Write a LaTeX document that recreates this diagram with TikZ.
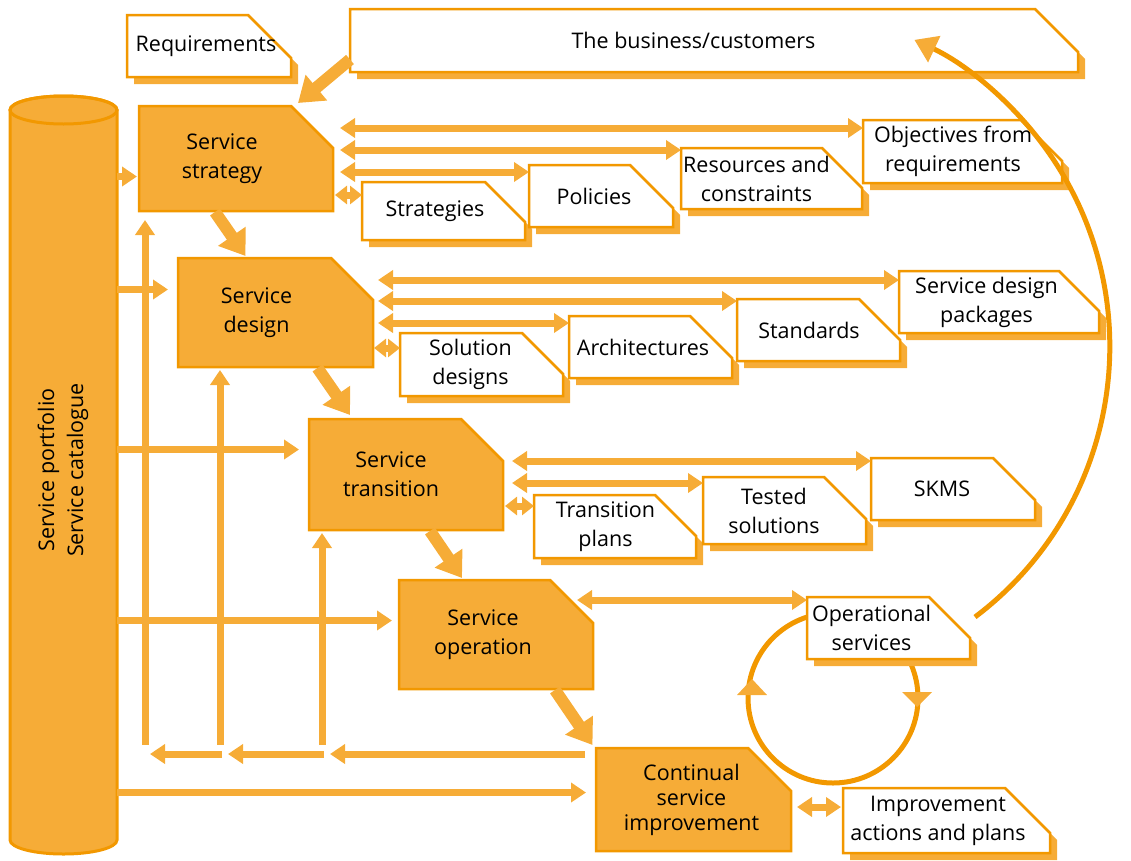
\documentclass[tikz,border=0pt]{standalone}
\usepackage{fontspec}
\setmainfont{Open Sans}
\usetikzlibrary{arrows.meta, calc}
\definecolor{itilfill}{RGB}{246,172,55}
\definecolor{itiledge}{RGB}{242,152,0}
\pgfdeclarelayer{background}
\pgfsetlayers{background,main}
\tikzset{
    >={Triangle[length=15pt,width=19pt]}, % arrow heads of the thin flows
    every node/.style={font=\fontsize{21.5}{29}\selectfont, align=center, inner sep=0pt, outer sep=0pt}, % text of all boxes
    wh/.style 2 args={minimum width=#1, minimum height=#2}, % box size in pixels
    textleft/.style={execute at end node={\hspace*{#1pt}}}, % moves the text left by half the value
    stagebox/.style={fill=itilfill, draw=itiledge, line width=2.5pt}, % orange lifecycle boxes
    paperbox/.style={fill=white, draw=itiledge, line width=2.5pt}, % white output boxes
    papershadow/.style={fill=itilfill, transform canvas={xshift=7pt, yshift=-7pt}}, % shadow under the output boxes
    link/.style={draw=itilfill, line width=7pt, <->}, % two way flows
    feed/.style={draw=itilfill, line width=7pt, ->}, % one way flows
    nudge/.style={draw=itilfill, line width=7pt, {Triangle[length=12pt,width=18pt]}-{Triangle[length=12pt,width=18pt]}}, % very short two way flows
    stagearrow/.style={draw=itilfill, line width=12pt, -{Triangle[length=24pt,width=32pt]}}, % arrows from stage to stage
    cycleline/.style={draw=itiledge, line width=5pt}, % improvement loop
}
\newcommand{\cutcorner}[3][]{% box outline with the top right corner cut off
    \path[#1] (#2.south west) -- (#2.north west) -- ([xshift=-#3pt]#2.north east)
        -- ([yshift=-#3pt]#2.north east) -- (#2.south east) -- cycle;
}

\begin{document}
\begin{tikzpicture}[x=1pt, y=-1pt]
    \useasboundingbox (0,0) rectangle (1131,860);

    % portfolio
    \node[rotate=90] (port) at (63,470) {Service portfolio\\Service catalogue};
    \coordinate (porttop) at (63.5,110);
    \coordinate (portbot) at (63.5,840);
    \coordinate (portedge) at (117,475);

    % lifecycle stages
    \node[wh={194}{105}, textleft=28] (strat) at (236,158.5) {Service\\strategy};
    \node[wh={195}{109}, textleft=38] (design) at (275.5,312.5) {Service\\design};
    \node[wh={194}{111}, textleft=30] (trans) at (406,474.5) {Service\\transition};
    \node[wh={194}{109}, textleft=26] (oper) at (496,634.5) {Service\\operation};
    \node[wh={195}{103}, textleft=4, font=\fontsize{21.5}{25}\selectfont] (csi) at (693.5,799.5) {Continual\\service\\improvement};

    % outputs
    \node[wh={164}{62}, textleft=6] (req) at (209,46) {Requirements};
    \node[wh={728}{63}, textleft=41] (biz) at (714,40.5) {The business/customers};
    \node[wh={163}{58}, textleft=17] (strats) at (443.5,211) {Strategies};
    \node[wh={144}{62}, textleft=14] (pol) at (601,196) {Policies};
    \node[wh={181}{61}, textleft=30] (res) at (771.5,178.5) {Resources and\\constraints};
    \node[wh={199}{63}, textleft=19] (obj) at (962.5,151.5) {Objectives from\\requirements};
    \node[wh={163}{63}, textleft=22] (soldes) at (481.5,364.5) {Solution\\designs};
    \node[wh={163}{62}, textleft=15] (arch) at (650.5,347) {Architectures};
    \node[wh={163}{62}, textleft=19] (std) at (818.5,330) {Standards};
    \node[wh={200}{62}, textleft=25] (sdp) at (999,302) {Service design\\packages};
    \node[wh={162}{63}, textleft=19] (tplan) at (615,526.5) {Transition\\plans};
    \node[wh={163}{67}, textleft=21] (tested) at (784.5,510.5) {Tested\\solutions};
    \node[wh={164}{62}, textleft=22] (skms) at (953,489) {SKMS};
    \node[wh={163}{62}, textleft=34] (opsvc) at (888.5,628) {Operational\\services};
    \node[wh={207}{65}, textleft=17] (impr) at (946.5,820.5) {Improvement\\actions and plans};

    \coordinate (cyc) at (833,698);
    \coordinate (cyclestart) at (975,617);
    \coordinate (rt) at (322,754);
    \coordinate (rd) at (220,754);
    \coordinate (rs) at (145,754);

    \begin{pgfonlayer}{background}
        \path[stagebox, line width=3pt] ($(portbot)+(-53.5,0)$) arc[start angle=180, end angle=0, x radius=53.5, y radius=14]
            -- ($(porttop)+(53.5,0)$) arc[start angle=0, end angle=-180, x radius=53.5, y radius=14] -- cycle;
        \draw[itiledge, line width=3pt] (porttop) ellipse[x radius=53.5, y radius=14];
        \draw[cycleline] (cyc) circle[radius=85];
        \foreach \nm/\ct in {strat/42, design/42, trans/42, oper/43, csi/43}
            {\cutcorner[stagebox]{\nm}{\ct}}
        \foreach \nm/\ct in {req/43, biz/43, strats/40, pol/43, res/40, obj/41, soldes/41, arch/42, std/41, sdp/40, tplan/41, tested/42, skms/42, opsvc/41, impr/45}
            {\cutcorner[papershadow]{\nm}{\ct}
             \cutcorner[paperbox]{\nm}{\ct}}
    \end{pgfonlayer}

    % stage to stage
    \draw[stagearrow] ($(biz.west)+(0,19)$) -- ($(strat.north)+(62,-3)$);
    \draw[stagearrow] ($(strat.south)+(-21,1)$) -- ($(design.north)+(-30,-2)$);
    \draw[stagearrow] ($(design.south)+(42,1)$) -- ($(trans.north)+(-56,-4)$);
    \draw[stagearrow] ($(trans.south)+(24,1)$) -- ($(oper.north)+(-34,-2)$);
    \draw[stagearrow] ($(oper.south)+(59,1)$) -- ($(csi.north)+(-101,-3)$);

    % portfolio into the stages
    \draw[feed] ($(portedge |- strat.west)+(0,18)$) -- ($(strat.west)+(-2,18)$);
    \draw[feed] ($(portedge |- design.west)+(0,-23)$) -- ($(design.west)+(-10,-23)$);
    \draw[feed] ($(portedge |- trans.west)+(0,-25)$) -- ($(trans.west)+(-10,-25)$);
    \draw[feed] ($(portedge |- oper.west)+(0,-14)$) -- ($(oper.west)+(-7,-14)$);
    \draw[feed] ($(portedge |- csi.west)+(0,-7)$) -- ($(csi.west)+(-10,-7)$);

    % feedback from improvement
    \draw[feed] ($(csi.north west |- rt)+(-11,0)$) -- ($(rt)+(8,0)$);
    \draw[feed] ($(rt)+(2,0)$) -- ($(rd)+(8,0)$);
    \draw[feed] ($(rd)+(2,0)$) -- ($(rs)+(5,0)$);
    \draw[feed] ($(rt)+(0,-9)$) -- ($(rt |- trans.south)+(0,3)$);
    \draw[feed] ($(rd)+(0,-9)$) -- ($(rd |- design.south)+(0,3)$);
    \draw[feed] ($(rs)+(0,-9)$) -- ($(rs |- strat.south)+(0,9)$);

    % strategy outputs
    \draw[link] ($(strat.east |- obj.north)+(7,8)$) -- ($(obj.north west)+(0,8)$);
    \draw[link] ($(strat.east |- res.north)+(7,2)$) -- ($(res.north west)+(0,2)$);
    \draw[link] ($(strat.east |- pol.north)+(7,7)$) -- ($(pol.north west)+(0,7)$);
    \draw[nudge] ($(strat.east |- strats.north)+(2,13)$) -- ($(strats.north west)+(0,13)$);

    % design outputs
    \draw[link] ($(design.east |- sdp.north)+(5,9)$) -- ($(sdp.north west)+(0,9)$);
    \draw[link] ($(design.east |- std.north)+(5,2)$) -- ($(std.north west)+(0,2)$);
    \draw[link] ($(design.east |- arch.north)+(5,7)$) -- ($(arch.north west)+(0,7)$);
    \draw[nudge] ($(design.east |- soldes.north)+(1,15)$) -- ($(soldes.north west)+(0,15)$);

    % transition outputs
    \draw[link] ($(trans.east |- skms.north)+(9,3)$) -- ($(skms.north west)+(0,3)$);
    \draw[link] ($(trans.east |- tested.north)+(9,6)$) -- ($(tested.north west)+(0,6)$);
    \draw[nudge] ($(trans.east |- tplan.north)+(2,11)$) -- ($(tplan.north west)+(0,11)$);

    % operation and improvement outputs
    \draw[link] ($(oper.east |- opsvc.north)+(-16,3)$) -- ($(opsvc.north west)+(0,3)$);
    \draw[link] ($(csi.east |- impr.north)+(6,19)$) -- ($(impr.north west)+(-2,19)$);

    % improvement loop
    \fill[itilfill] ($(cyc)+(-81,-19)$) -- ++(15,16) -- ++(-30,0) -- cycle;
    \fill[itilfill] ($(cyc)+(84,9)$) -- ++(15,-15) -- ++(-30,0) -- cycle;
    \draw[cycleline, -{Triangle[length=22pt,width=28pt,color=itilfill]}] (cyclestart) arc[start angle=53, end angle=-65, radius=338.5];
\end{tikzpicture}
\end{document}
